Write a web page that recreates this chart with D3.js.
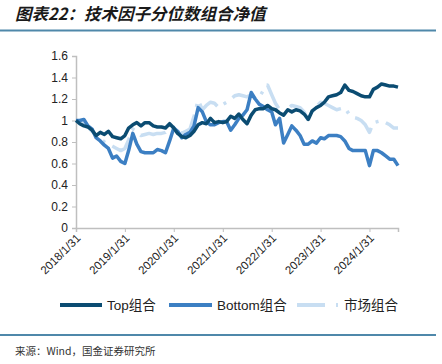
<!DOCTYPE html>
<html>
<head>
<meta charset="utf-8">
<script src="https://cdn.jsdelivr.net/npm/d3@7"></script>
<style>
  body { margin: 0; background: #fff; }
  svg { display: block; }
</style>
</head>
<body>
<div id="chart"></div>
<script>
// 月末日期: 2018/1/31 ~ 2024/8/31
const firstMonth = new Date(2018, 0, 31);
const monthCount = 80;

const tickLabels = ["2018/1/31", "2019/1/31", "2020/1/31", "2021/1/31", "2022/1/31", "2023/1/31", "2024/1/31"];
const yTicks = [0, 0.2, 0.4, 0.6, 0.8, 1, 1.2, 1.4, 1.6];

const topValues = [
    1.00, 0.97, 0.95, 0.94, 0.91, 0.86, 0.89, 0.87, 0.90, 0.85, 0.84, 0.83,
    0.86, 0.93, 0.96, 0.98, 0.95, 0.98, 0.98, 0.95, 0.94, 0.94, 0.93, 0.97,
    0.93, 0.88, 0.85, 0.84, 0.86, 0.90, 0.96, 0.98, 0.97, 1.02, 0.98, 0.99,
    0.98, 0.99, 1.04, 1.02, 1.06, 1.01, 0.97, 1.05, 1.10, 1.11, 1.11, 1.14,
    1.11, 1.10, 1.07, 1.05, 1.10, 1.08, 1.10, 1.09, 1.06, 1.01, 1.09, 1.12,
    1.14, 1.17, 1.22, 1.23, 1.24, 1.26, 1.33, 1.28, 1.27, 1.25, 1.23, 1.22,
    1.22, 1.29, 1.31, 1.34, 1.33, 1.32, 1.32, 1.31
];

const bottomValues = [
    1.00, 1.00, 1.01, 0.95, 0.92, 0.84, 0.81, 0.77, 0.74, 0.65, 0.67, 0.62,
    0.60, 0.72, 0.88, 0.78, 0.71, 0.70, 0.70, 0.70, 0.73, 0.72, 0.70, 0.81,
    0.93, 0.90, 0.84, 0.87, 0.89, 0.95, 1.12, 1.08, 0.99, 0.96, 0.96, 0.98,
    0.99, 0.99, 0.91, 0.96, 1.02, 1.05, 1.10, 1.26, 1.20, 1.15, 1.13, 1.10,
    1.08, 0.96, 1.02, 0.79, 0.87, 0.95, 0.91, 0.86, 0.78, 0.78, 0.81, 0.79,
    0.84, 0.83, 0.86, 0.86, 0.86, 0.85, 0.81, 0.74, 0.72, 0.72, 0.72, 0.72,
    0.58, 0.72, 0.72, 0.70, 0.67, 0.64, 0.64, 0.58
];

const marketValues = [
    1.00, 0.99, 0.97, 0.94, 0.90, 0.86, 0.83, 0.80, 0.78, 0.76, 0.74, 0.72,
    0.74, 0.82, 0.92, 0.90, 0.86, 0.87, 0.88, 0.87, 0.88, 0.88, 0.89, 0.93,
    0.94, 0.90, 0.88, 0.90, 0.92, 1.04, 1.19, 1.10, 1.14, 1.17, 1.16, 1.12,
    1.15, 1.17, 1.20, 1.23, 1.24, 1.23, 1.22, 1.24, 1.20, 1.22, 1.28, 1.33,
    1.24, 1.16, 1.10, 1.05, 1.11, 1.14, 1.13, 1.12, 1.08, 1.00, 1.09, 1.13,
    1.17, 1.16, 1.14, 1.12, 1.10, 1.11, 1.12, 1.06, 1.03, 1.02, 1.00, 0.96,
    0.89, 0.98, 0.99, 1.00, 0.98, 0.96, 0.93, 0.93
];

const seriesNames = ["Top组合", "Bottom组合", "市场组合"];
const seriesColors = ["#0b4c72", "#3c7fc3", "#c8def2"];

const width = 442, height = 364;
const margin = { left: 76, right: 44, top: 56, bottom: 136 };

const dates = d3.range(monthCount).map(i => new Date(2018, i + 1, 0));
const parseTick = d3.timeParse("%Y/%m/%d");

const series = [topValues, bottomValues, marketValues].map((vals, k) => ({
    name: seriesNames[k],
    color: seriesColors[k],
    dash: k === 2 ? "26,8,3,8" : null,
    points: vals.map((v, i) => ({ date: dates[i], value: v }))
}));

const svg = d3.select("#chart").append("svg")
    .attr("width", width)
    .attr("height", height);

// 标题
svg.append("text")
    .attr("x", 15)
    .attr("y", 20)
    .style("font-family", "'Noto Sans CJK SC', sans-serif")
    .style("font-size", "16.5px")
    .style("font-style", "italic")
    .style("font-weight", "bold")
    .style("fill", "#1a1a1a")
    .text("图表22：技术因子分位数组合净值");

svg.append("line")
    .attr("x1", 0).attr("x2", 436)
    .attr("y1", 30.5).attr("y2", 30.5)
    .style("stroke", "#4f88aa")
    .style("stroke-width", 2);

const x = d3.scaleTime()
    .domain([firstMonth, dates[dates.length - 1]])
    .range([margin.left, width - margin.right]);

const y = d3.scaleLinear()
    .domain([0, 1.6])
    .range([height - margin.bottom, margin.top]);

// y 轴
const yAxis = svg.append("g")
    .attr("transform", `translate(${margin.left},0)`)
    .call(d3.axisLeft(y).tickValues(yTicks).tickSize(4).tickPadding(4)
        .tickFormat(d => d3.format("")(+d.toFixed(1))));

// x 轴
const xAxis = svg.append("g")
    .attr("transform", `translate(0,${y(0)})`)
    .call(d3.axisBottom(x).tickValues(tickLabels.map(parseTick)).tickSize(4)
        .tickFormat((d, i) => tickLabels[i]));

[yAxis, xAxis].forEach(g => {
    g.select(".domain").style("stroke", "#bfbfbf").style("stroke-width", 1.5);
    g.selectAll(".tick line").style("stroke", "#bfbfbf");
    g.selectAll("text")
        .style("font-family", "'Liberation Sans', Arial, sans-serif")
        .style("fill", "#222");
});
yAxis.selectAll("text").style("font-size", "12px");
xAxis.selectAll("text")
    .style("font-size", "11.5px")
    .attr("text-anchor", "end")
    .attr("dy", null)
    .attr("transform", "translate(2,8) rotate(-45)")
    .attr("y", 4)
    .attr("x", 0);

// 折线
const line = d3.line()
    .x(d => x(d.date))
    .y(d => y(d.value));

svg.selectAll(".series")
    .data(series.slice().reverse())
    .enter().append("path")
    .attr("class", "series")
    .attr("d", d => line(d.points))
    .style("fill", "none")
    .style("stroke", d => d.color)
    .style("stroke-width", 3.5)
    .style("stroke-linejoin", "round")
    .style("stroke-dasharray", d => d.dash);

// 图例
const legendItems = [
    { x: 60, len: 42 },
    { x: 169, len: 43 },
    { x: 297, len: 42 }
];
const legend = svg.selectAll(".legend")
    .data(series)
    .enter().append("g")
    .attr("class", "legend")
    .attr("transform", (d, i) => `translate(${legendItems[i].x},305)`);

legend.append("line")
    .attr("x1", 0)
    .attr("x2", (d, i) => legendItems[i].len)
    .style("stroke", d => d.color)
    .style("stroke-width", 4)
    .style("stroke-dasharray", d => d.dash ? "28,11,2,11" : null);

legend.append("text")
    .attr("x", (d, i) => legendItems[i].len + 5)
    .attr("y", 5)
    .style("font-family", "'Liberation Sans', 'Noto Sans CJK SC', sans-serif")
    .style("font-size", "13.5px")
    .style("fill", "#222")
    .text(d => d.name);

svg.append("line")
    .attr("x1", 0).attr("x2", 436)
    .attr("y1", 335).attr("y2", 335)
    .style("stroke", "#4f88aa")
    .style("stroke-width", 2);

svg.append("text")
    .attr("x", 15)
    .attr("y", 355)
    .style("font-family", "'Noto Sans CJK SC', sans-serif")
    .style("font-size", "10.5px")
    .style("fill", "#333")
    .text("来源：Wind，国金证券研究所");
</script>
</body>
</html>
